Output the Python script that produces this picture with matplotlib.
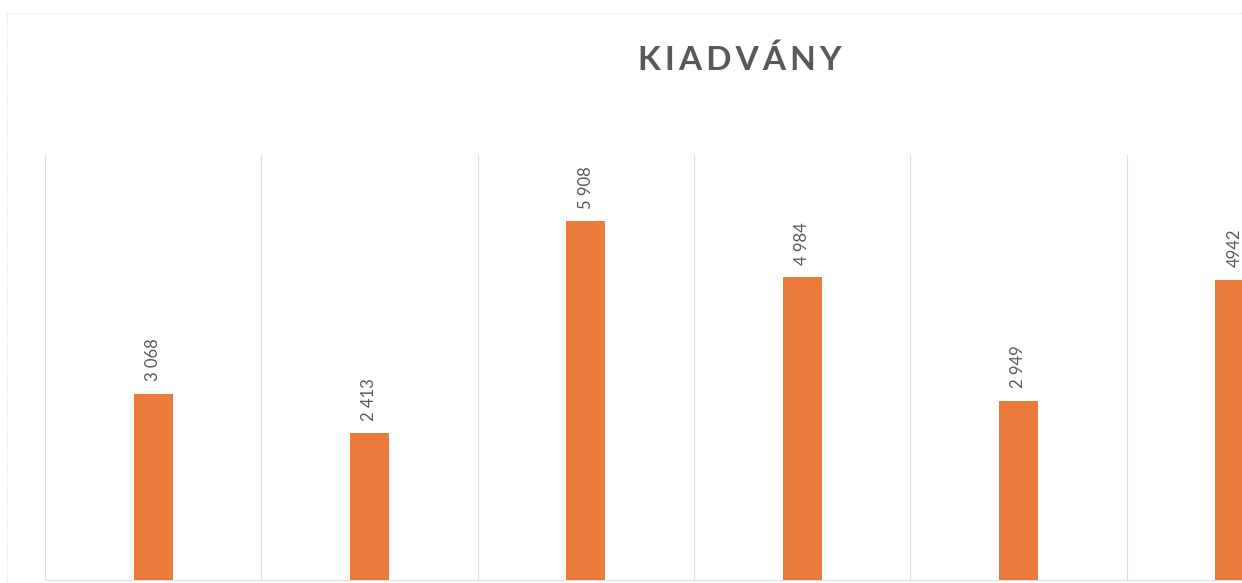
import matplotlib.pyplot as plt
from matplotlib.lines import Line2D

# 数据：柱高和柱顶标签（最后一个标签原图没有千位空格）
values = [3068, 2413, 5908, 4984, 2949, 4942]
value_labels = ['3 068', '2 413', '5 908', '4 984', '2 949', '4942']
title = 'K I A D V Á N Y'

plt.rcParams['font.family'] = ['Lato', 'DejaVu Sans']

bar_color = '#EB7B3B'
text_color = '#595959'
grid_color = '#DEDEDE'

W, H = 1242, 583
fig = plt.figure(figsize=(W / 100, H / 100), dpi=100)

# 图表被裁剪：绘图区向右超出画面
left = 45 / W
width = 6 * 216.3 / W
bottom = 3 / H
top = 155 / H
ax = fig.add_axes([left, bottom, width, 1 - top - bottom])

x = list(range(len(values)))
ax.bar(x, values, width=0.18, color=bar_color, zorder=3)

ax.set_xlim(-0.5, len(values) - 0.5)
ax.set_ylim(0, 7000)

# 类别之间的竖直分隔线
ax.set_xticks([i - 0.5 for i in range(len(values) + 1)])
ax.set_xticklabels([])
ax.set_yticks([])
ax.tick_params(length=0)
ax.grid(axis='x', color=grid_color, linewidth=0.8)

for side in ['top', 'right', 'left']:
    ax.spines[side].set_visible(False)
ax.spines['bottom'].set_color(grid_color)
ax.spines['bottom'].set_linewidth(0.8)

# 柱顶数值，竖排
for xi, v, lab in zip(x, values, value_labels):
    ax.annotate(lab, (xi, v), xytext=(0, 9), textcoords='offset points',
                rotation=90, ha='center', va='bottom',
                fontsize=12, color=text_color)

fig.text(740 / W, 1 - 60 / H, title.replace(' ', '\u2009'), ha='center', va='center',
         fontsize=24, fontweight='bold', color=text_color)

# 外框（左边和上边）
fig.add_artist(Line2D([7 / W, 7 / W], [0, 1 - 13 / H], color=grid_color,
                      linewidth=0.8, linestyle=':'))
fig.add_artist(Line2D([7 / W, 1], [1 - 13 / H, 1 - 13 / H], color=grid_color,
                      linewidth=0.8, linestyle=':'))

plt.savefig('out.png', dpi=100)
